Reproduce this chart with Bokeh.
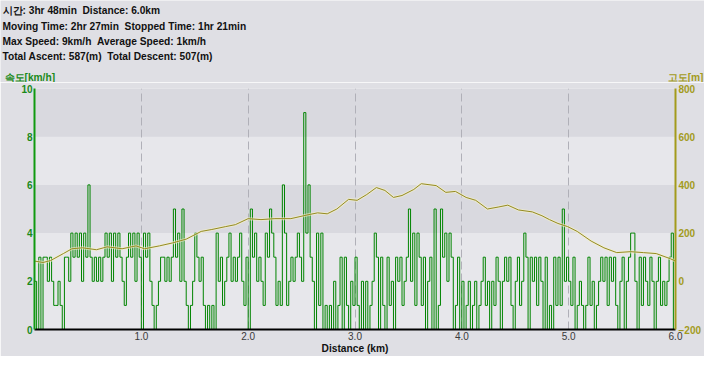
from bokeh.plotting import figure
from bokeh.layouts import column
from bokeh.models import (LinearAxis, Range1d, FixedTicker, PrintfTickFormatter,
                          BoxAnnotation, Label)
from bokeh.embed import file_html
from bokeh.resources import INLINE

# ---------------- data ----------------
step_km = 0.02
# speed samples (km/h), one every 0.02 km, grouped per kilometre
speed_km0 = [2,0,3,0,3, 3,2,3,2,1, 1,2,1,0,3, 3,2,4,3,4, 3,4,2,4,3,
             6,3,2,3,2, 3,2,3,4,3, 4,2,4,3,4, 3,2,1,3,4, 3,4,2,4,3]
speed_km1 = [0,4,3,4,2, 1,0,1,2,3, 3,2,3,2,3, 5,3,4,2,5, 2,1,0,1,2,
             4,3,2,3,1, 0,1,0,1,0, 4,2,3,1,2, 3,4,2,3,2, 3,4,2,1,3]
speed_km2 = [0,5,3,4,2, 3,2,1,4,3, 5,4,3,1,2, 1,6,4,1,2, 3,2,3,4,3,
             2,9,4,6,3, 2,0,4,1,4, 0,1,0,1,0, 2,0,1,3,0, 3,1,0,2,1]
speed_km3 = [3,1,0,2,0, 2,0,1,2,4, 3,0,3,1,0, 3,1,2,0,3, 2,3,1,2,3,
             5,2,4,1,4, 3,1,3,0,2, 3,0,5,0,1, 5,3,4,2,4, 3,0,1,3,0]
speed_km4 = [2,0,1,2,0, 1,2,0,1,2, 3,1,2,0,2, 1,3,2,0,2, 3,2,3,1,0,
             2,3,1,2,4, 3,0,3,2,3, 1,3,2,0,3, 0,1,0,3,1, 3,1,5,2,3]
speed_km5 = [2,1,3,0,1, 2,1,0,1,3, 1,2,0,1,2, 3,2,3,1,3, 2,3,1,0,2,
             3,0,2,3,4, 4,2,0,3,1, 3,2,1,3,2, 0,2,3,1,2, 1,2,3,4,0]
speed_end = [2]

elev_km = [0.00, 0.08, 0.15, 0.27, 0.35, 0.45, 0.58, 0.68, 0.82, 0.95,
           1.03, 1.17, 1.29, 1.42, 1.56, 1.66, 1.79, 1.88, 2.00, 2.12,
           2.25, 2.40, 2.56, 2.65, 2.74, 2.83, 2.94, 3.02, 3.11, 3.20,
           3.28, 3.36, 3.44, 3.55, 3.62, 3.76, 3.85, 3.94, 4.04, 4.13,
           4.24, 4.34, 4.43, 4.53, 4.66, 4.75, 4.82, 4.90, 4.99, 5.08,
           5.21, 5.33, 5.45, 5.58, 5.70, 5.82, 5.95, 6.00]
elev_m = [84, 78, 86, 115, 135, 139, 131, 143, 135, 147,
          135, 147, 159, 175, 207, 215, 227, 235, 260, 256,
          260, 260, 276, 284, 280, 300, 340, 336, 360, 389,
          377, 348, 356, 381, 405, 397, 369, 373, 348, 336,
          300, 308, 316, 296, 288, 272, 256, 240, 227, 207,
          167, 139, 119, 123, 119, 115, 94, 84]

summary_lines = ["시간: 3hr 48min \u00a0Distance: 6.0km",
                 "Moving Time: 2hr 27min \u00a0Stopped Time: 1hr 21min",
                 "Max Speed: 9km/h \u00a0Average Speed: 1km/h",
                 "Total Ascent: 587(m) \u00a0Total Descent: 507(m)"]
speed_title = "속도[km/h]"
elev_title = "고도[m]"
dist_title = "Distance (km)"
speed_ticks = [0, 2, 4, 6, 8, 10]
elev_ticks = [-200, 0, 200, 400, 600, 800]
dist_ticks = [1, 2, 3, 4, 5, 6]
light_bands = [(0, 4), (6, 8)]

speed = speed_km0 + speed_km1 + speed_km2 + speed_km3 + speed_km4 + speed_km5 + speed_end
dist = [round(i * step_km, 2) for i in range(len(speed))]

# ---------------- styles ----------------
GREEN = "#008400"
GREEN_TXT = "#1a8a1a"
OLIVE = "#a39b1c"
OUTER = "#dfdfe4"
DARK_BAND = "#d9d9df"
LIGHT_BAND = "#e7e7eb"
FONT = "Liberation Sans"
FS = "10.2px"

W = 704
HEAD_H, MAIN_H = 82, 274
LEFT, RIGHT, TOP, BOTTOM = 34, 24, 6, 24


def style_axis(ax, color, standoff, bold=True):
    ax.major_tick_line_color = None
    ax.minor_tick_line_color = None
    ax.major_tick_out = 0
    ax.major_tick_in = 0
    ax.minor_tick_out = 0
    ax.minor_tick_in = 0
    ax.major_label_standoff = standoff
    ax.major_label_text_color = color
    ax.major_label_text_font = FONT
    ax.major_label_text_font_size = "10px"
    ax.major_label_text_font_style = "bold" if bold else "normal"


# ---------- header strip ----------
head = figure(width=W, height=HEAD_H, x_range=Range1d(0, W), y_range=Range1d(HEAD_H, 0),
              x_axis_type=None, y_axis_type=None, output_backend="svg",
              toolbar_location=None, title_location=None, min_border=0, frame_align=False)
head.background_fill_color = OUTER
head.border_fill_color = OUTER
head.outline_line_color = None
head.grid.visible = False
for txt, yy in zip(summary_lines, [10, 26, 41, 56]):
    head.add_layout(Label(x=2, y=yy, text=txt, text_font=FONT, text_font_size=FS,
                          text_font_style="bold", text_color="#111111",
                          text_baseline="alphabetic", text_align="left"))
head.add_layout(Label(x=4, y=76.5, text=speed_title, text_font=FONT, text_font_size=FS,
                      text_font_style="bold", text_color=GREEN_TXT,
                      text_baseline="alphabetic", text_align="left"))
head.add_layout(Label(x=W - 1, y=76.5, text=elev_title, text_font=FONT, text_font_size=FS,
                      text_font_style="bold", text_color=OLIVE,
                      text_baseline="alphabetic", text_align="right"))

# ---------- main chart ----------
chart = figure(width=W, height=MAIN_H, x_range=Range1d(0, 6.0), y_range=Range1d(0, 10),
               output_backend="svg", toolbar_location=None, title_location=None,
               frame_align=False,
               min_border_left=LEFT, min_border_right=RIGHT,
               min_border_top=TOP, min_border_bottom=BOTTOM)
chart.background_fill_color = DARK_BAND
chart.border_fill_color = OUTER
chart.outline_line_color = None

for lo, hi in light_bands:
    chart.add_layout(BoxAnnotation(bottom=lo, top=hi, fill_color=LIGHT_BAND, fill_alpha=1,
                                   line_color=None, level="image"))

chart.ygrid.visible = False
chart.xgrid.ticker = FixedTicker(ticks=dist_ticks)
chart.xgrid.grid_line_color = "#b0b0b8"
chart.xgrid.grid_line_dash = "8 4"
chart.xgrid.grid_line_width = 1

ya = chart.yaxis[0]
ya.ticker = FixedTicker(ticks=speed_ticks)
ya.axis_line_color = "#109a10"
ya.axis_line_width = 2
style_axis(ya, GREEN_TXT, 2)

xa = chart.xaxis[0]
xa.ticker = FixedTicker(ticks=dist_ticks)
xa.formatter = PrintfTickFormatter(format="%.1f")
xa.axis_line_color = "black"
xa.axis_line_width = 2
style_axis(xa, "#3a3a3a", 2, bold=False)
xa.axis_label = dist_title
xa.axis_label_standoff = 0
xa.axis_label_text_font = FONT
xa.axis_label_text_font_size = FS
xa.axis_label_text_font_style = "bold"
xa.axis_label_text_color = "#111111"

chart.extra_y_ranges = {"elev": Range1d(-200, 800)}
ra = LinearAxis(y_range_name="elev", ticker=FixedTicker(ticks=elev_ticks))
ra.axis_line_color = OLIVE
ra.axis_line_width = 2
style_axis(ra, OLIVE, 3)
chart.add_layout(ra, "right")

chart.step(dist, speed, mode="after", line_color=GREEN, line_width=1)

chart.line(elev_km, elev_m, y_range_name="elev", line_color="#f4f0cc", line_width=3, line_alpha=0.6)
chart.line(elev_km, elev_m, y_range_name="elev", line_color="#958b20", line_width=1)

p = column(head, chart, spacing=0)
open("out.html", "w").write(file_html(p, INLINE))
